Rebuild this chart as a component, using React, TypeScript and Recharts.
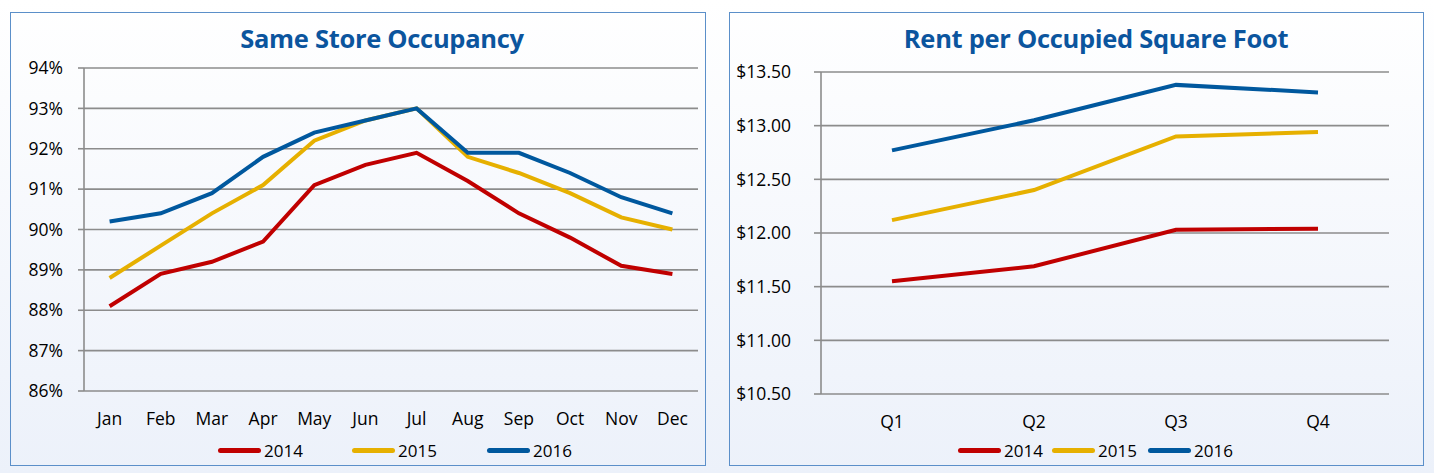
import React from 'react';
import { LineChart, Line, XAxis, YAxis, CartesianGrid } from 'recharts';

// ---- data ----
const months = ['Jan', 'Feb', 'Mar', 'Apr', 'May', 'Jun', 'Jul', 'Aug', 'Sep', 'Oct', 'Nov', 'Dec'];
const occ2014 = [88.1, 88.9, 89.2, 89.7, 91.1, 91.6, 91.9, 91.2, 90.4, 89.8, 89.1, 88.9];
const occ2015 = [88.8, 89.6, 90.4, 91.1, 92.2, 92.7, 93.0, 91.8, 91.4, 90.9, 90.3, 90.0];
const occ2016 = [90.2, 90.4, 90.9, 91.8, 92.4, 92.7, 93.0, 91.9, 91.9, 91.4, 90.8, 90.4];
const occTicks = [86, 87, 88, 89, 90, 91, 92, 93, 94];

const quarters = ['Q1', 'Q2', 'Q3', 'Q4'];
const rent2014 = [11.55, 11.69, 12.03, 12.04];
const rent2015 = [12.12, 12.40, 12.90, 12.94];
const rent2016 = [12.77, 13.05, 13.38, 13.31];
const rentTicks = [10.5, 11, 11.5, 12, 12.5, 13, 13.5];

const years = ['2014', '2015', '2016'];
const COLORS = ['#C00000', '#E6B000', '#00589E'];

const FONT = "'Open Sans', 'Noto Sans', sans-serif";
const GRID = '#8C8C8C';

const occData = months.map((m, i) => ({ m, y2014: occ2014[i], y2015: occ2015[i], y2016: occ2016[i] }));
const rentData = quarters.map((q, i) => ({ q, y2014: rent2014[i], y2015: rent2015[i], y2016: rent2016[i] }));

const tickStyle = { fill: '#000', fontSize: 17.5, fontFamily: FONT };

const Panel: React.FC<{ left: number; width: number; children: React.ReactNode }> = ({ left, width, children }) => (
    <div
        style={{
            position: 'absolute', left, top: 12, width, height: 454,
            border: '1px solid #5B8FC9', boxSizing: 'border-box',
        }}
    >
        {children}
    </div>
);

// title is centred a bit right of the panel centre, as in the original
const Title: React.FC<{ text: string; center: number }> = ({ text, center }) => (
    <div
        style={{
            position: 'absolute', left: center - 300, width: 600, top: 8, textAlign: 'center',
            color: '#0B559E', fontFamily: FONT, fontWeight: 700, fontSize: 25.5, letterSpacing: -0.3,
        }}
    >
        {text}
    </div>
);

const LegendRow: React.FC<{ starts: number[]; top: number }> = ({ starts, top }) => (
    <>
        {years.map((y, i) => (
            <div key={y} style={{ position: 'absolute', left: starts[i], top, display: 'flex', alignItems: 'center' }}>
                <div style={{ width: 43, height: 5, borderRadius: 3, background: COLORS[i], marginRight: 3 }} />
                <span style={{ fontFamily: FONT, fontSize: 17, color: '#000' }}>{y}</span>
            </div>
        ))}
    </>
);

const series = (keyPrefix: string) =>
    years.map((y, i) => (
        <Line
            key={keyPrefix + y}
            type="linear"
            dataKey={'y' + y}
            stroke={COLORS[i]}
            strokeWidth={4}
            dot={false}
            activeDot={false}
            isAnimationActive={false}
        />
    ));

export default function App() {
    const boundaryTicksOcc = [...months.map((_, i) => i), months.length];
    const boundaryTicksRent = [...quarters.map((_, i) => i), quarters.length];
    return (
        <div
            style={{
                position: 'fixed', left: 0, top: 0, width: 1434, height: 473,
                background: 'linear-gradient(#FFFFFF, #ECF1FA)', overflow: 'hidden',
            }}
        >
            <Panel left={10} width={696}>
                <Title text="Same Store Occupancy" center={371} />
                <div style={{ position: 'absolute', left: 0, top: 0 }}>
                    <LineChart width={694} height={452} data={occData} margin={{ top: 55, right: 7, left: 13, bottom: 34 }}>
                        <CartesianGrid vertical={false} stroke={GRID} strokeWidth={1.6} xAxisId={0} yAxisId={0} />
                        <XAxis
                            xAxisId="ticks" type="number" domain={[0, months.length]} ticks={boundaryTicksOcc}
                            height={0} tickSize={6} tickFormatter={() => ''} stroke={GRID} strokeWidth={1.6}
                            allowDataOverflow
                        />
                        <XAxis
                            xAxisId={0} dataKey="m" height={40} tickLine={false} axisLine={false}
                            tickSize={0} tickMargin={22} tick={tickStyle} interval={0}
                            padding={{ left: 25.6, right: 25.6 }}
                        />
                        <YAxis
                            yAxisId={0} width={60} domain={[86, 94]} ticks={occTicks} interval={0}
                            tickFormatter={(v: number) => `${v}%`} tick={tickStyle}
                            tickSize={6} tickMargin={15} stroke={GRID} strokeWidth={1.6}
                        />
                        {series('o')}
                    </LineChart>
                </div>
                <LegendRow starts={[207, 341, 476]} top={426} />
            </Panel>

            <Panel left={729} width={695}>
                <Title text="Rent per Occupied Square Foot" center={366} />
                <div style={{ position: 'absolute', left: 0, top: 0 }}>
                    <LineChart width={693} height={452} data={rentData} margin={{ top: 59, right: 34, left: 21, bottom: 31 }}>
                        <CartesianGrid vertical={false} stroke={GRID} strokeWidth={1.6} xAxisId={0} yAxisId={0} />
                        <XAxis
                            xAxisId="ticks" type="number" domain={[0, quarters.length]} ticks={boundaryTicksRent}
                            height={0} tickSize={7} tickFormatter={() => ''} stroke={GRID} strokeWidth={1.6}
                            allowDataOverflow
                        />
                        <XAxis
                            xAxisId={0} dataKey="q" height={40} tickLine={false} axisLine={false}
                            tickSize={0} tickMargin={22} tick={tickStyle} interval={0}
                            padding={{ left: 71, right: 71 }}
                        />
                        <YAxis
                            yAxisId={0} width={70} domain={[10.5, 13.5]} ticks={rentTicks} interval={0}
                            tickFormatter={(v: number) => `$${v.toFixed(2)}`} tick={tickStyle}
                            tickSize={7} tickMargin={23} stroke={GRID} strokeWidth={1.6}
                        />
                        {series('r')}
                    </LineChart>
                </div>
                <LegendRow starts={[228, 322, 418]} top={426} />
            </Panel>
        </div>
    );
}
